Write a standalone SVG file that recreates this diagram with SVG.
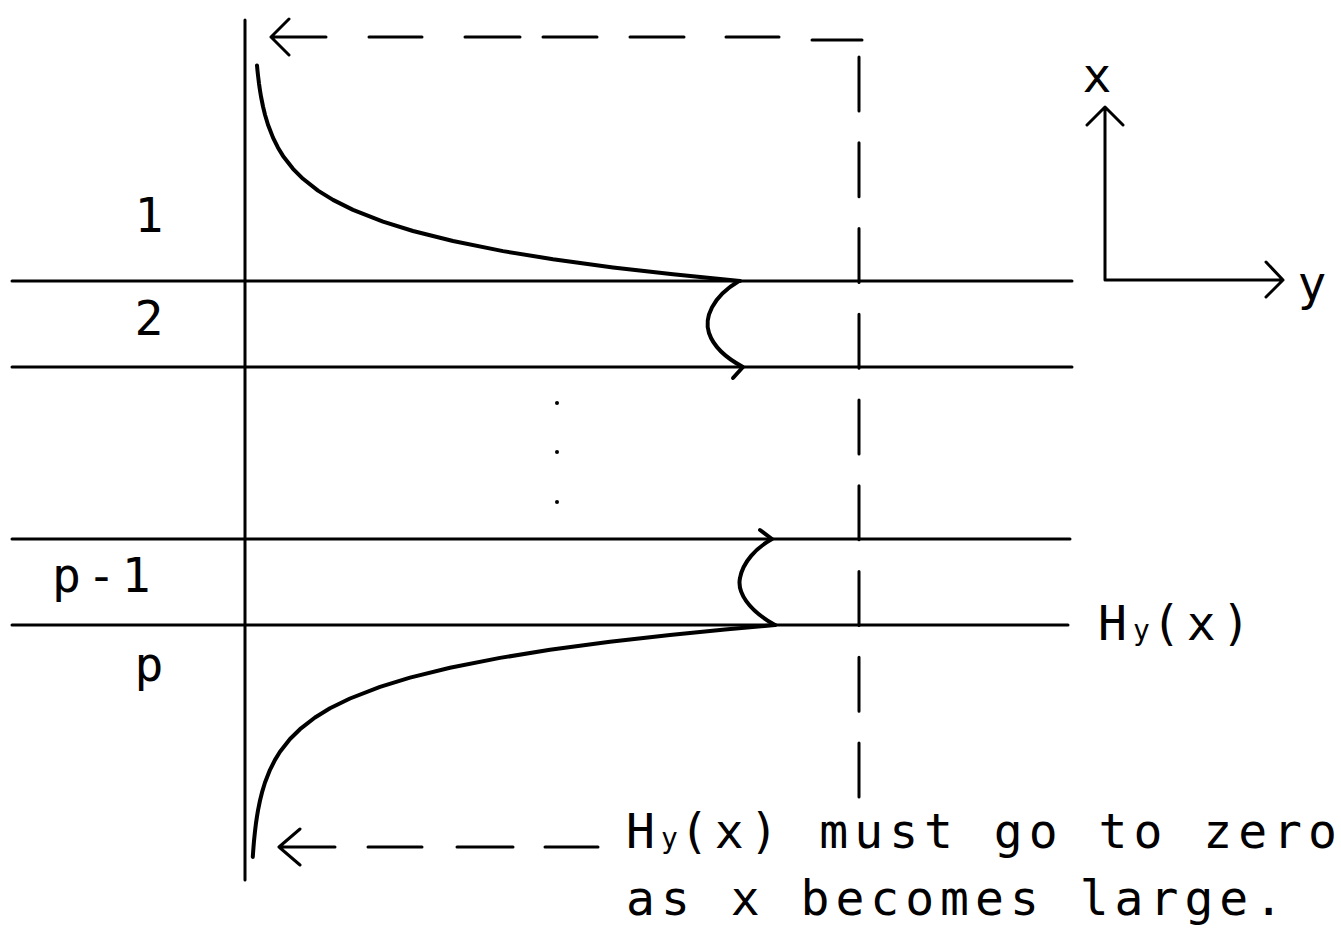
<svg xmlns="http://www.w3.org/2000/svg" width="1341" height="933" viewBox="0 0 1341 933">
<style>
.ln{stroke:#000;stroke-width:3;fill:none;stroke-linecap:round;stroke-linejoin:round}
.cv{stroke:#000;stroke-width:4;fill:none;stroke-linecap:round;stroke-linejoin:round}
.t{font-family:"DejaVu Sans Mono","Liberation Mono",monospace;font-size:48px;letter-spacing:6px;fill:#000}
.sub{font-size:28px;letter-spacing:2px}
</style>
<rect width="1341" height="933" fill="#fff"/>
<g id="layers">
<line class="ln" x1="245" y1="20" x2="245" y2="880"/>
<line class="ln" x1="12" y1="281" x2="1072" y2="281"/>
<line class="ln" x1="12" y1="367" x2="1072" y2="367"/>
<line class="ln" x1="12" y1="539" x2="1070" y2="539"/>
<line class="ln" x1="12" y1="625" x2="1068" y2="625"/>
<circle cx="557" cy="403" r="2" fill="#000"/>
<circle cx="557" cy="452" r="2" fill="#000"/>
<circle cx="557" cy="502" r="2" fill="#000"/>
</g>
<g id="connectors">
<g id="top-dashed">
<path class="ln" d="M289,19 L271,37 L289,55 M271,37 H326 M369,37 H422 M465,37 H520 M543,37 H597 M630,37 H684 M726,37 H779 M812,40 H862"/>
</g>
<path id="vertical-dashed" class="ln" d="M859,57 V797" stroke-dasharray="54 31.75"/>
<g id="bottom-dashed">
<path class="ln" d="M300,829 L279,847 L300,865 M279,847 H335 M368,847 H422 M457,847 H513 M545,847 H598"/>
</g>
</g>
<g id="field-curve">
<polyline class="cv" points="257,65.4 257.5,70.7 258,75.4 259,83.6 260,90.5 261,96.5 263,106.5 265,114.7 268,124.7 273,137.6 278,147.7 283,155.9 293,168.8 303,178.8 318,190.6 333,199.9 353,209.9 383,221.7 413,231 453,241 503,251.1 553,259.2 613,267.4 673,274.3 740,281"/>
<path class="cv" d="M739,281 C712,297 704,318 709,333 C714,348 728,359 743,367 L733,378"/>
<path class="cv" d="M775,625 C748,610 737,592 740,578 C743,562 756,548 772,539 L760,530"/>
<polyline class="cv" points="775,625 725,629.4 670,634.9 610,641.7 550,649.8 500,657.9 450,667.8 410,677.6 380,686.8 350,698.5 330,708.3 315,717.5 300,729.2 290,739 280,751.8 275,759.9 270,769.8 265,782.5 262,792.4 260,800.5 258,810.3 257,816.3 256,823.1 255,831.2 254,841 253.5,847 253.1,852.3 252.8,856.9"/>
</g>
<g id="axes-icon">
<path class="ln" d="M1105,280 V107 M1087,125 L1105,107 L1123,125 M1105,280 H1283 M1266,262 L1283,280 L1266,297"/>
<text class="t" x="1100" y="92" text-anchor="middle" letter-spacing="0">x</text>
<text class="t" x="1315" y="300" text-anchor="middle" letter-spacing="0">y</text>
</g>
<g id="labels">
<text class="t" x="152" y="232" text-anchor="middle" letter-spacing="0">1</text>
<text class="t" x="152" y="335" text-anchor="middle" letter-spacing="0">2</text>
<text class="t" x="52" y="592" letter-spacing="14">p-1</text>
<text class="t" x="152" y="681" text-anchor="middle" letter-spacing="0">p</text>
<text class="t" x="1098" y="640">H<tspan class="sub">y</tspan>(x)</text>
<text class="t" x="626" y="848">H<tspan class="sub">y</tspan>(x) must go to zero</text>
<text class="t" x="626" y="915">as x becomes large.</text>
</g>
</svg>
